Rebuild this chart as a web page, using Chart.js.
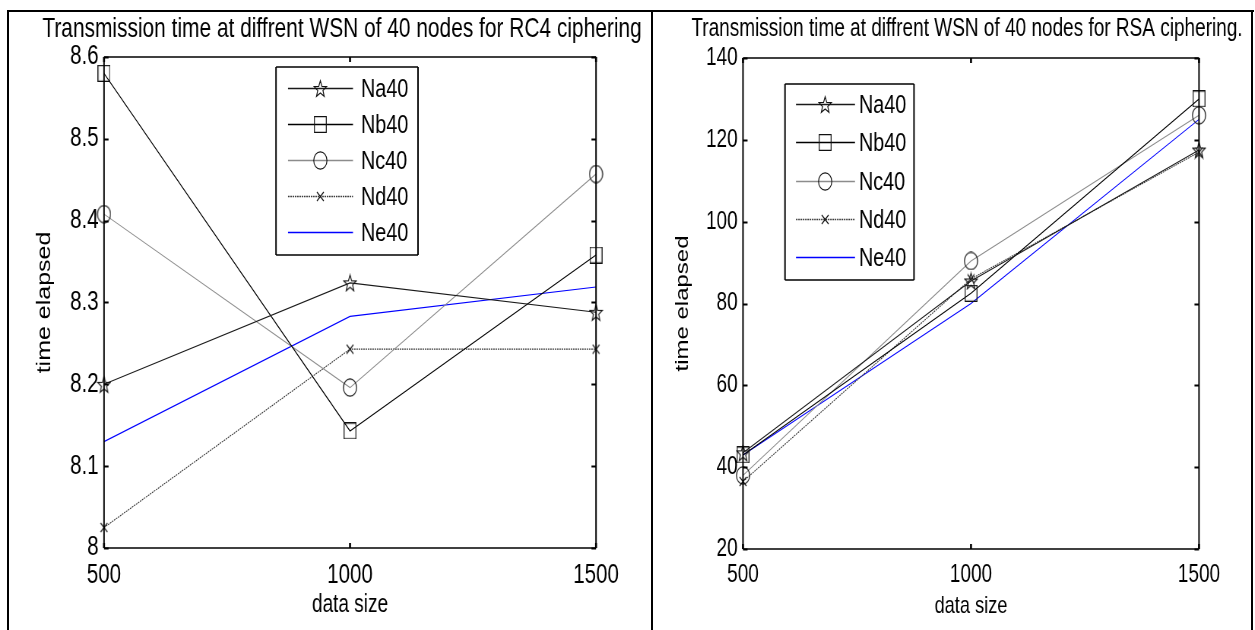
<!DOCTYPE html>
<html>
<head>
<meta charset="utf-8">
<script src="https://cdn.jsdelivr.net/npm/chart.js@4.4.1/dist/chart.umd.min.js"></script>
<style>
  html, body { margin: 0; padding: 0; background: #fff; }
  body { width: 1255px; height: 630px; position: relative; overflow: hidden; }
  .rule { position: absolute; background: #000; }
  .wrap { position: absolute; top: 0; height: 630px; transform-origin: 0 0; }
</style>
</head>
<body>
<div class="rule" style="left:7px;top:10px;width:1247px;height:2px"></div>
<div class="rule" style="left:7px;top:10px;width:2px;height:620px"></div>
<div class="rule" style="left:651px;top:10px;width:2px;height:620px"></div>
<div class="rule" style="left:1251px;top:10px;width:2px;height:620px"></div>
<div class="wrap" id="wrapA" style="left:0"><canvas id="rc4Chart"></canvas></div>
<div class="wrap" id="wrapB" style="left:653px"><canvas id="rsaChart"></canvas></div>

<script>
const FONT = '"Liberation Sans", Arial, sans-serif';
// the original figure is horizontally squashed; draw wide, then squeeze with css
const SQ = 0.76;

const dataSizes = [500, 1000, 1500];
const xTickLabels = ['500', '1000', '1500'];
const seriesNames = ['Na40', 'Nb40', 'Nc40', 'Nd40', 'Ne40'];

// RC4 ciphering - time elapsed per data size
const rc4Na40 = [8.200, 8.324, 8.288];
const rc4Nb40 = [8.580, 8.143, 8.358];
const rc4Nc40 = [8.408, 8.196, 8.457];
const rc4Nd40 = [8.025, 8.243, 8.243];
const rc4Ne40 = [8.130, 8.283, 8.319];
const rc4Ticks = [8, 8.1, 8.2, 8.3, 8.4, 8.5, 8.6];
const rc4TickLabels = ['8', '8.1', '8.2', '8.3', '8.4', '8.5', '8.6'];

// RSA ciphering
const rsaNa40 = [43.5, 85.5, 117.5];
const rsaNb40 = [43.0, 82.5, 130.0];
const rsaNc40 = [38.0, 90.4, 126.0];
const rsaNd40 = [36.5, 86.0, 117.0];
const rsaNe40 = [43.0, 80.0, 125.0];
const rsaTicks = [20, 40, 60, 80, 100, 120, 140];
const rsaTickLabels = ['20', '40', '60', '80', '100', '120', '140'];

// page px -> canvas px along x
const cx = v => v / SQ;

// matlab-ish marker glyphs (drawn round, squashed later)
function makeMarker(kind) {
  const c = document.createElement('canvas');
  const g = c.getContext('2d');
  const size = { star: 19, square: 17, circle: 19, x: 11 }[kind];
  c.width = size; c.height = size;
  g.strokeStyle = '#111';
  g.lineWidth = 1.2;
  const m = size / 2;
  g.beginPath();
  if (kind === 'star') {
    for (let i = 0; i < 10; i++) {
      const r = i % 2 ? 3.6 : 8.6;
      const ang = -Math.PI / 2 + i * Math.PI / 5;
      const px = m + r * Math.cos(ang), py = m + 0.8 + r * Math.sin(ang);
      if (i === 0) g.moveTo(px, py); else g.lineTo(px, py);
    }
    g.closePath();
  } else if (kind === 'square') {
    g.rect(0.7, 0.7, size - 1.4, size - 1.4);
  } else if (kind === 'circle') {
    g.arc(m, m, m - 0.8, 0, Math.PI * 2);
  } else {
    g.moveTo(1, 1); g.lineTo(size - 1, size - 1);
    g.moveTo(size - 1, 1); g.lineTo(1, size - 1);
  }
  g.stroke();
  return c;
}

const seriesStyles = [
  { color: '#1a1a1a', dash: [], marker: makeMarker('star') },
  { color: '#000000', dash: [], marker: makeMarker('square') },
  { color: '#8c8c8c', dash: [], marker: makeMarker('circle') },
  { color: '#3a3a3a', dash: [2, 1], marker: makeMarker('x') },
  { color: '#0000ff', dash: [], marker: null }
];

function buildDatasets(lists) {
  return lists.map((vals, i) => ({
    label: seriesNames[i],
    data: dataSizes.map((x, j) => ({ x: x, y: vals[j] })),
    borderColor: seriesStyles[i].color,
    borderDash: seriesStyles[i].dash,
    borderWidth: 1.1,
    pointStyle: seriesStyles[i].marker || 'circle',
    pointRadius: seriesStyles[i].marker ? 5 : 0,
    tension: 0,
    clip: false
  }));
}

function seg(ctx, x1, y1, x2, y2) {
  ctx.beginPath();
  ctx.moveTo(x1, y1);
  ctx.lineTo(x2, y2);
  ctx.stroke();
}

// axes box, inward tick marks, title and boxed legend
const matlabFrame = {
  id: 'matlabFrame',
  afterDraw(chart, args, opts) {
    const ctx = chart.ctx;
    const a = chart.chartArea;
    const xs = chart.scales.x, ys = chart.scales.y;
    ctx.save();
    ctx.strokeStyle = '#000';
    // vertical strokes get thinner after squeezing, so widen them a bit
    ctx.lineWidth = 1.5;
    seg(ctx, a.left, a.top, a.right, a.top);
    seg(ctx, a.left, a.bottom, a.right, a.bottom);
    ctx.lineWidth = 1.5 / SQ;
    seg(ctx, a.left, a.top, a.left, a.bottom);
    seg(ctx, a.right, a.top, a.right, a.bottom);
    ctx.lineWidth = 2;
    ys.ticks.forEach(t => {
      const p = Math.round(ys.getPixelForValue(t.value)) + 0.5;
      seg(ctx, a.left, p, a.left + 6, p);
      seg(ctx, a.right, p, a.right - 6, p);
    });
    ctx.lineWidth = 2 / SQ;
    xs.ticks.forEach(t => {
      const p = xs.getPixelForValue(t.value);
      seg(ctx, p, a.bottom, p, a.bottom - 5);
      seg(ctx, p, a.top, p, a.top + 5);
    });

    ctx.fillStyle = '#000';
    ctx.font = opts.titleSize + 'px ' + FONT;
    ctx.textAlign = 'center';
    ctx.textBaseline = 'middle';
    ctx.fillText(opts.title, cx(opts.titleX), opts.titleY);

    const lg = opts.legend;
    const L = cx(lg.left), R = cx(lg.right);
    ctx.fillStyle = '#fff';
    ctx.fillRect(L, lg.top, R - L, lg.bottom - lg.top);
    ctx.strokeStyle = '#000';
    ctx.lineWidth = 1.5;
    seg(ctx, L, lg.top, R, lg.top);
    seg(ctx, L, lg.bottom, R, lg.bottom);
    ctx.lineWidth = 1.5 / SQ;
    seg(ctx, L, lg.top, L, lg.bottom);
    seg(ctx, R, lg.top, R, lg.bottom);
    ctx.font = lg.fontSize + 'px ' + FONT;
    ctx.textAlign = 'left';
    chart.data.datasets.forEach((ds, i) => {
      const y = Math.round(lg.rowY + i * lg.rowStep) + 0.5;
      ctx.save();
      ctx.strokeStyle = seriesStyles[i].color;
      ctx.lineWidth = 1.3;
      ctx.setLineDash(seriesStyles[i].dash);
      seg(ctx, cx(lg.lineX1), y, cx(lg.lineX2), y);
      ctx.restore();
      const mk = seriesStyles[i].marker;
      if (mk) {
        const mx = Math.round(cx((lg.lineX1 + lg.lineX2) / 2) - mk.width / 2);
        ctx.drawImage(mk, mx, Math.round(y - mk.height / 2));
      }
      ctx.fillStyle = '#000';
      ctx.fillText(ds.label, cx(lg.textX), y + 1);
    });
    ctx.restore();
  }
};

function makeChart(id, wrapId, pageWidth, lists, ticks, tickLabels, cfg) {
  const canvas = document.getElementById(id);
  const w = Math.round(pageWidth / SQ);
  canvas.width = w;
  canvas.height = 630;
  const wrap = document.getElementById(wrapId);
  wrap.style.width = w + 'px';
  wrap.style.transform = 'scaleX(' + SQ + ')';

  return new Chart(canvas, {
    type: 'line',
    data: { datasets: buildDatasets(lists) },
    plugins: [matlabFrame],
    options: {
      responsive: false,
      animation: false,
      devicePixelRatio: 1,
      layout: { padding: { left: 0, right: w - cx(cfg.plotRight), top: cfg.plotTop, bottom: 0 } },
      plugins: {
        legend: { display: false },
        tooltip: { enabled: false },
        matlabFrame: cfg.frame
      },
      scales: {
        x: {
          type: 'linear',
          min: dataSizes[0],
          max: dataSizes[dataSizes.length - 1],
          afterBuildTicks: s => { s.ticks = dataSizes.map(v => ({ value: v })); },
          afterFit: s => { s.height = 630 - cfg.plotBottom; },
          grid: { display: false, drawTicks: false },
          border: { display: false },
          ticks: {
            color: '#000',
            padding: cfg.xTickPad,
            maxRotation: 0,
            font: { family: FONT, size: cfg.tickSize },
            callback: (v, i) => xTickLabels[i]
          },
          title: {
            display: true,
            text: 'data size',
            color: '#000',
            font: { family: FONT, size: cfg.axisTitleSize },
            padding: { top: 0, bottom: cfg.xTitlePad }
          }
        },
        y: {
          min: ticks[0],
          max: ticks[ticks.length - 1],
          afterBuildTicks: s => { s.ticks = ticks.map(v => ({ value: v })); },
          afterFit: s => { s.width = cx(cfg.plotLeft); },
          grid: { display: false, drawTicks: false },
          border: { display: false },
          ticks: {
            color: '#000',
            padding: 7,
            font: { family: FONT, size: cfg.tickSize },
            callback: (v, i) => tickLabels[i]
          },
          title: {
            display: true,
            text: 'time elapsed',
            color: '#000',
            font: { family: FONT, size: cfg.axisTitleSize },
            padding: { top: cfg.yTitlePad, bottom: 0 }
          }
        }
      }
    }
  });
}

makeChart('rc4Chart', 'wrapA', 652, [rc4Na40, rc4Nb40, rc4Nc40, rc4Nd40, rc4Ne40], rc4Ticks, rc4TickLabels, {
  plotLeft: 104, plotRight: 596, plotTop: 57, plotBottom: 548,
  tickSize: 27, axisTitleSize: 25, xTickPad: 11, xTitlePad: 10, yTitlePad: 44,
  frame: {
    title: 'Transmission time at diffrent WSN of 40 nodes for RC4 ciphering',
    titleSize: 27.5, titleX: 342, titleY: 29,
    legend: { left: 276, top: 67, right: 418, bottom: 255, rowY: 88, rowStep: 36,
              lineX1: 288, lineX2: 353, textX: 361, fontSize: 26 }
  }
});

makeChart('rsaChart', 'wrapB', 602, [rsaNa40, rsaNb40, rsaNc40, rsaNd40, rsaNe40], rsaTicks, rsaTickLabels, {
  plotLeft: 90, plotRight: 546, plotTop: 58, plotBottom: 549,
  tickSize: 25, axisTitleSize: 24, xTickPad: 11, xTitlePad: 9, yTitlePad: 25,
  frame: {
    title: 'Transmission time at diffrent WSN of 40 nodes for RSA ciphering.',
    titleSize: 25, titleX: 314, titleY: 29,
    legend: { left: 132, top: 84, right: 261, bottom: 280, rowY: 104, rowStep: 38.3,
              lineX1: 143, lineX2: 202, textX: 206, fontSize: 26 }
  }
});
</script>
</body>
</html>
